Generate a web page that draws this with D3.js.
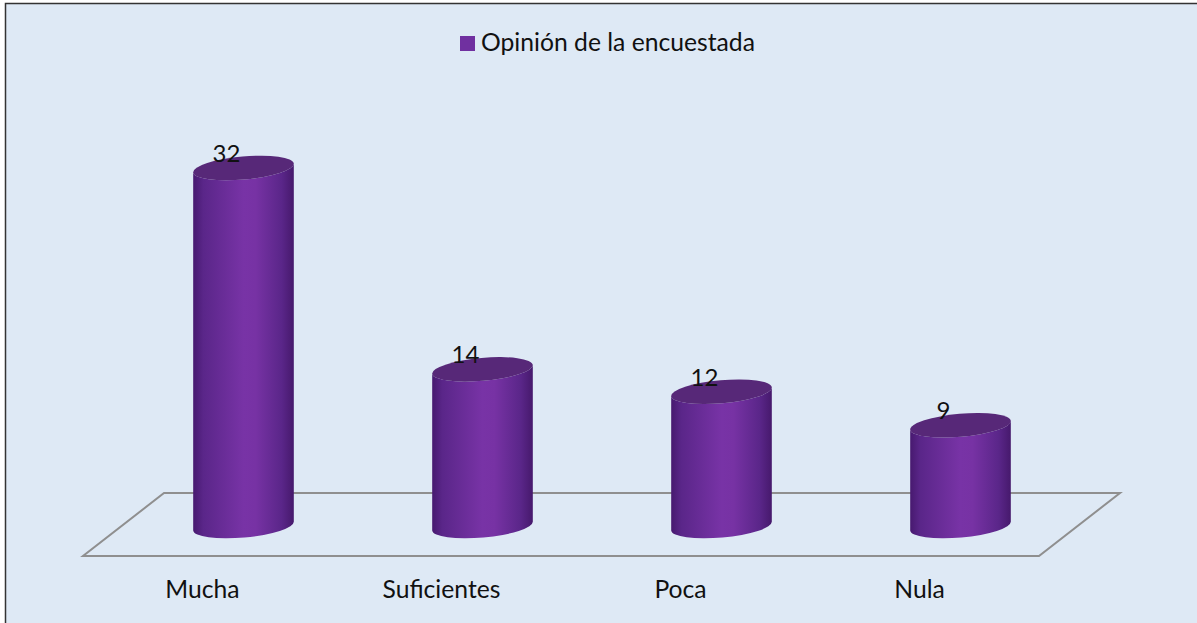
<!DOCTYPE html>
<html>
<head>
<meta charset="utf-8">
<script src="https://cdn.jsdelivr.net/npm/d3@7"></script>
<style>
  html, body { margin: 0; padding: 0; background: #fff; overflow: hidden; }
  text { font-family: Lato, "Open Sans", sans-serif; fill: #111; }
</style>
</head>
<body>
<script>
const categories = ["Mucha", "Suficientes", "Poca", "Nula"];
const values = [32, 14, 12, 9];
const seriesName = "Opinión de la encuestada";

const width = 1197, height = 623;
const depth = 81;
const radiusX = 50.5, radiusY = 11.5, tilt = -5;

const svg = d3.select("body").append("svg")
  .attr("width", width)
  .attr("height", height)
  .style("display", "block");

let x = d3.scaleBand().domain(categories).range([83, 1039]);
let y = d3.scaleLinear().domain([0, 32]).range([526, 168]);

// Side shading of the cylinders
let grad = svg.append("defs").append("linearGradient")
  .attr("id", "side");
[[0, "#47196f"], [0.1, "#5a2689"], [0.5, "#7833a6"], [0.62, "#7732a4"], [0.88, "#5a2689"], [1, "#46196c"]]
  .forEach(s => grad.append("stop").attr("offset", s[0]).attr("stop-color", s[1]));

// Chart area
svg.append("rect")
  .attr("x", 5.5)
  .attr("y", 3.5)
  .attr("width", width + 10)
  .attr("height", height + 10)
  .attr("fill", "#dee9f5")
  .attr("stroke", "#333")
  .attr("stroke-width", 1.5);

// Legend
svg.append("rect")
  .attr("x", 460)
  .attr("y", 36)
  .attr("width", 15)
  .attr("height", 15)
  .attr("fill", "#7030a0");
svg.append("text")
  .attr("x", 481)
  .attr("y", 51)
  .style("font-size", "24.7px")
  .text(seriesName);

// Floor
let [x0, x1] = x.range();
svg.append("path")
  .attr("d", d3.line()([[x0, y(0) + 30], [x1, y(0) + 30], [x1 + depth, y(0) - 33], [x0 + depth, y(0) - 33]]) + "Z")
  .attr("fill", "none")
  .attr("stroke", "#8f8f8f")
  .attr("stroke-width", 2);

// Category labels
svg.selectAll(".cat")
  .data(categories)
  .join("text")
  .attr("class", "cat")
  .attr("x", d => x(d) + x.bandwidth() / 2)
  .attr("y", 598)
  .attr("text-anchor", "middle")
  .style("font-size", "24.7px")
  .text(d => d);

// Cylinders
let data = categories.map((c, i) => ({ c: c, v: values[i] }));
let dx = radiusX * Math.cos(tilt * Math.PI / 180);
let dy = radiusX * Math.sin(tilt * Math.PI / 180);
let cx = d => x(d.c) + x.bandwidth() / 2 + depth / 2 + 0.5;

let bar = svg.selectAll(".bar")
  .data(data)
  .join("g")
  .attr("class", "bar");

bar.append("path")
  .attr("fill", "url(#side)")
  .attr("d", d => {
    let c = cx(d), top = y(d.v), base = y(0);
    return `M${c - dx},${top - dy}L${c - dx},${base - dy}`
      + `A${radiusX},${radiusY} ${tilt} 0 0 ${c + dx},${base + dy}`
      + `L${c + dx},${top + dy}`
      + `A${radiusX},${radiusY} ${tilt} 0 1 ${c - dx},${top - dy}Z`;
  });

bar.append("ellipse")
  .attr("rx", radiusX)
  .attr("ry", radiusY)
  .attr("fill", "#572878")
  .attr("transform", d => `translate(${cx(d)},${y(d.v)}) rotate(${tilt})`);

// Value labels
bar.append("text")
  .attr("x", d => cx(d) - 17)
  .attr("y", d => y(d.v) - 6)
  .attr("text-anchor", "middle")
  .style("font-size", "24px")
  .text(d => d.v);
</script>
</body>
</html>
